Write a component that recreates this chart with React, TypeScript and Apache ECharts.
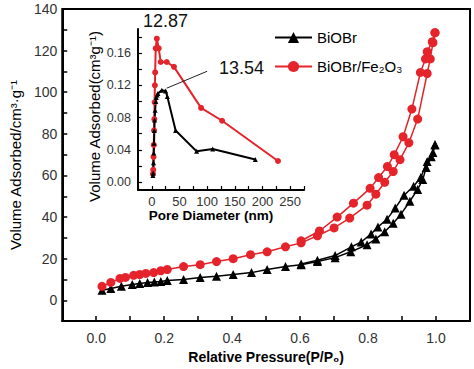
import React, { useEffect, useRef } from "react";
import * as echarts from "echarts";

// ---- Main isotherm data (relative pressure P/P0, volume adsorbed cm3/g) ----
const biobrAdsP = [0.017, 0.043, 0.074, 0.106, 0.128, 0.151, 0.171, 0.19, 0.209, 0.257, 0.306, 0.354, 0.403, 0.457, 0.503, 0.557, 0.603, 0.651, 0.703, 0.749, 0.797, 0.823, 0.849, 0.874, 0.897, 0.923, 0.946, 0.961, 0.971, 0.986, 0.997];
const biobrAdsV = [4.8, 5.7, 6.7, 7.6, 8.1, 8.6, 8.8, 9.0, 9.5, 10.0, 11.0, 11.6, 12.4, 13.3, 14.8, 16.2, 17.1, 18.6, 20.5, 23.3, 26.7, 29.5, 32.9, 37.0, 41.4, 47.6, 53.3, 58.0, 63.8, 69.0, 74.8];
const biobrDesP = [0.997, 0.991, 0.974, 0.955, 0.934, 0.906, 0.88, 0.856, 0.829, 0.809, 0.78, 0.751, 0.703, 0.651, 0.603];
const biobrDesV = [74.8, 71.0, 66.7, 59.0, 54.8, 50.5, 44.3, 39.0, 35.2, 31.9, 28.0, 25.7, 21.5, 19.2, 17.5];

const feAdsP = [0.017, 0.043, 0.07, 0.086, 0.11, 0.128, 0.146, 0.169, 0.19, 0.209, 0.257, 0.306, 0.354, 0.403, 0.454, 0.503, 0.557, 0.603, 0.651, 0.7, 0.746, 0.797, 0.823, 0.849, 0.874, 0.894, 0.92, 0.946, 0.974, 0.983, 0.991, 0.997];
const feAdsV = [6.7, 8.6, 10.5, 11.0, 12.0, 12.4, 12.9, 13.3, 14.2, 14.8, 16.2, 17.1, 18.6, 20.0, 21.9, 23.3, 25.7, 27.6, 31.0, 34.8, 39.5, 45.7, 51.0, 56.7, 61.9, 67.6, 75.7, 87.1, 109.0, 116.0, 123.8, 128.6];
const feDesP = [0.997, 0.989, 0.974, 0.969, 0.954, 0.929, 0.903, 0.877, 0.857, 0.831, 0.806, 0.757, 0.709, 0.657, 0.603];
const feDesV = [128.6, 124.3, 119.5, 116.0, 109.5, 91.9, 78.6, 70.0, 64.3, 59.0, 53.8, 46.7, 40.0, 33.3, 28.6];

// ---- Inset pore size distribution (pore diameter nm, volume cm3/g) ----
const poreBiobrD = [2, 2.5, 3, 3.5, 4, 4.5, 5, 6, 7, 8, 9.5, 11, 18, 25, 28, 43, 81, 110, 187];
const poreBiobrV = [0.008, 0.011, 0.024, 0.036, 0.048, 0.064, 0.077, 0.089, 0.1, 0.105, 0.108, 0.11, 0.114, 0.113, 0.106, 0.064, 0.038, 0.041, 0.028];
const poreFeD = [2, 2.5, 3, 3.5, 4, 4.5, 5, 5.5, 6, 7, 9, 12.5, 16, 27, 40, 89, 127, 228];
const poreFeV = [0.01, 0.015, 0.031, 0.046, 0.064, 0.078, 0.099, 0.12, 0.136, 0.166, 0.178, 0.166, 0.149, 0.149, 0.143, 0.092, 0.076, 0.026];

// ---- Tick labels ----
const insetYLabels = [0, 0.04, 0.08, 0.12, 0.16];
const insetYTicks = [0, 0.02, 0.04, 0.06, 0.08, 0.1, 0.12, 0.14, 0.16, 0.18];

const legendNames = ["BiOBr", "BiOBr/Fe\u2082O\u2083"];
const peakLabels = ["12.87", "13.54"];

const zip = (a: number[], b: number[]) => a.map((v, i) => [v, b[i]]);

const FONT = "'Liberation Sans', Arial, sans-serif";
const RED = "#e5232b";
const BLACK = "#000";

export default function App() {
  const ref = useRef<HTMLDivElement>(null);
  useEffect(() => {
    if (!ref.current) return;
    const chart = echarts.init(ref.current, undefined, { renderer: "svg" });
    const axisLine = { show: true, onZero: false, lineStyle: { color: "#000", width: 2 } };
    const option: any = {
      animation: false,
      textStyle: { fontFamily: FONT },
      grid: [
        { left: 53, top: 9, width: 417, height: 315, show: true, borderColor: "#000", borderWidth: 2, backgroundColor: "transparent" },
        { left: 138, top: 29, width: 166, height: 161, show: false },
      ],
      xAxis: [
        {
          type: "value", gridIndex: 0, min: -0.1, max: 1.1, interval: 0.1,
          axisLine, splitLine: { show: false },
          axisTick: { inside: true, length: 5, lineStyle: { color: "#000", width: 1.5 } },
          axisLabel: {
            fontSize: 14, color: "#333", margin: 10, fontFamily: FONT,
            formatter: (v: number) => {
              const t = Math.round(v * 10);
              return t >= 0 && t % 2 === 0 ? (t / 10).toFixed(1) : "";
            },
          },
          name: "Relative Pressure(P/P\u2080)", nameLocation: "middle", nameGap: 27,
          nameTextStyle: { fontSize: 14, fontWeight: "bold", color: "#000", fontFamily: FONT },
        },
        {
          type: "value", gridIndex: 1, min: -25, max: 275, interval: 25,
          axisLine, splitLine: { show: false },
          axisTick: { inside: true, length: 4, lineStyle: { color: "#000", width: 1.2 } },
          axisLabel: {
            fontSize: 13, color: "#333", margin: 5, fontFamily: FONT,
            formatter: (v: number) => (v >= 0 && Math.round(v) % 50 === 0 ? String(Math.round(v)) : ""),
          },
          name: "Pore Diameter (nm)", nameLocation: "middle", nameGap: 17,
          nameTextStyle: { fontSize: 13.5, fontWeight: "bold", color: "#000", fontFamily: FONT, padding: [0, 20, 0, 0] },
        },
      ],
      yAxis: [
        {
          type: "value", gridIndex: 0, min: -10, max: 140, interval: 10,
          axisLine, splitLine: { show: false },
          axisTick: { inside: true, length: 5, lineStyle: { color: "#000", width: 1.5 } },
          axisLabel: {
            fontSize: 14, color: "#333", margin: 5, fontFamily: FONT,
            formatter: (v: number) => (v >= 0 && Math.round(v) % 20 === 0 ? String(Math.round(v)) : ""),
          },
          name: "Volume Adsorbed/cm\u00b3\u00b7g\u207b\u00b9", nameLocation: "middle", nameGap: 35,
          nameTextStyle: { fontSize: 15, color: "#000", fontFamily: FONT },
        },
        {
          type: "value", gridIndex: 1, min: -0.01, max: 0.19,
          axisLine, splitLine: { show: false },
          axisTick: { inside: true, length: 4, customValues: insetYTicks, lineStyle: { color: "#000", width: 1.2 } },
          axisLabel: {
            fontSize: 12.5, color: "#333", margin: 7, fontFamily: FONT, customValues: insetYLabels,
            formatter: (v: number) => v.toFixed(2),
          },
          name: "Volume Adsorbed(cm\u00b3g\u207b\u00b9)", nameLocation: "middle", nameGap: 36,
          nameTextStyle: { fontSize: 15, color: "#000", fontFamily: FONT, padding: [0, 14, 0, 0] },
        },
      ],
      legend: {
        data: legendNames,
        orient: "vertical", left: 269, top: 25,
        itemWidth: 37, itemHeight: 14, itemGap: 14,
        textStyle: { fontSize: 15, color: "#000", fontFamily: FONT, padding: [0, 0, 0, 0] },
      },
      series: [
        {
          name: legendNames[0], type: "line", xAxisIndex: 0, yAxisIndex: 0,
          data: zip(biobrAdsP, biobrAdsV), symbol: "triangle", symbolSize: 9,
          lineStyle: { color: BLACK, width: 1.5 }, itemStyle: { color: BLACK },
        },
        {
          name: legendNames[0], type: "line", xAxisIndex: 0, yAxisIndex: 0,
          data: zip(biobrDesP, biobrDesV), symbol: "triangle", symbolSize: 9,
          lineStyle: { color: BLACK, width: 1.5 }, itemStyle: { color: BLACK },
        },
        {
          name: legendNames[1], type: "line", xAxisIndex: 0, yAxisIndex: 0,
          data: zip(feAdsP, feAdsV), symbol: "circle", symbolSize: 9,
          lineStyle: { color: RED, width: 1.5 }, itemStyle: { color: RED },
        },
        {
          name: legendNames[1], type: "line", xAxisIndex: 0, yAxisIndex: 0,
          data: zip(feDesP, feDesV), symbol: "circle", symbolSize: 9,
          lineStyle: { color: RED, width: 1.5 }, itemStyle: { color: RED },
        },
        {
          name: "pore-BiOBr/Fe2O3", type: "line", xAxisIndex: 1, yAxisIndex: 1,
          data: zip(poreFeD, poreFeV), symbol: "circle", symbolSize: 6,
          lineStyle: { color: RED, width: 2 }, itemStyle: { color: RED },
        },
        {
          name: "pore-BiOBr", type: "line", xAxisIndex: 1, yAxisIndex: 1,
          data: zip(poreBiobrD, poreBiobrV), symbol: "triangle", symbolSize: 5,
          lineStyle: { color: BLACK, width: 2 }, itemStyle: { color: BLACK },
          markLine: {
            silent: true, symbol: ["none", "arrow"], symbolSize: [0, 8],
            lineStyle: { color: "#222", width: 1, type: "solid" },
            label: { show: false },
            data: [[{ coord: [100, 0.1375] }, { coord: [27, 0.1165] }]],
          },
        },
      ],
      graphic: [
        { type: "text", left: 143, top: 12, style: { text: peakLabels[0], fontSize: 18, fill: "#111", fontFamily: FONT } },
        { type: "text", left: 219, top: 59, style: { text: peakLabels[1], fontSize: 18, fill: "#111", fontFamily: FONT } },
      ],
    };
    chart.setOption(option);
    return () => chart.dispose();
  }, []);
  return <div ref={ref} style={{ position: "fixed", left: 0, top: 0, width: 474, height: 369, background: "#fff" }} />;
}
